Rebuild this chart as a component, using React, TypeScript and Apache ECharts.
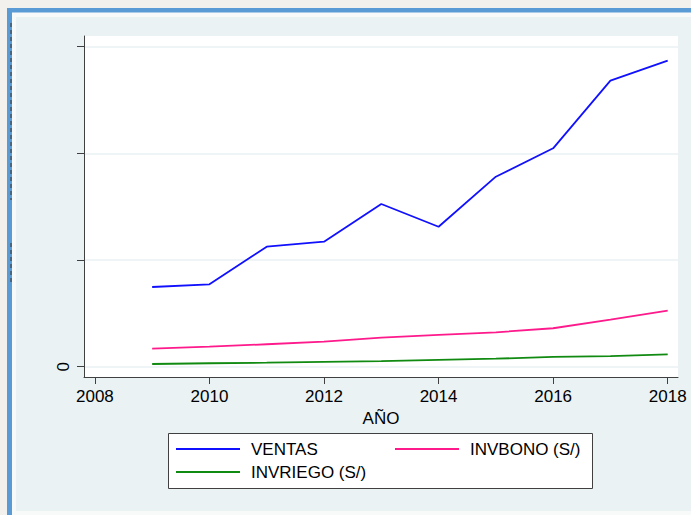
import React, { useEffect, useRef } from "react";
import * as echarts from "echarts";

const years = [2009, 2010, 2011, 2012, 2013, 2014, 2015, 2016, 2017, 2018];
const ventas = [7.47, 7.72, 11.25, 11.72, 15.25, 13.12, 17.81, 20.47, 26.81, 28.69];
const invbono = [1.69, 1.87, 2.1, 2.34, 2.72, 2.97, 3.22, 3.6, 4.41, 5.25];
const invriego = [0.25, 0.32, 0.37, 0.44, 0.51, 0.63, 0.75, 0.91, 0.98, 1.16];
const xTicks = [2008, 2010, 2012, 2014, 2016, 2018];
const yTicks = [0, 10, 20, 30];
const yTickLabels = ["0", "", "", ""];

const FONT = "'Liberation Sans', Arial, Helvetica, sans-serif";
const FS = 17;

export default function App() {
  const ref = useRef<HTMLDivElement>(null);
  useEffect(() => {
    if (!ref.current) return;
    const chart = echarts.init(ref.current, null, { renderer: "svg" });
    const pair = (vals: number[]) => years.map((y, i) => [y, vals[i]]);
    chart.setOption({
      animation: false,
      backgroundColor: "#f2f1ee",
      textStyle: { fontFamily: FONT },
      graphic: [
        { type: "rect", z: -20, shape: { x: 12, y: 12, width: 679, height: 503 }, style: { fill: "#f8fafa" } },
        { type: "rect", z: -19, shape: { x: 16, y: 17, width: 675, height: 494 }, style: { fill: "#EAF2F3" } },
        { type: "rect", z: -18, shape: { x: 7, y: 8, width: 684, height: 4.5 }, style: { fill: "#5B9BD5" } },
        { type: "rect", z: -18, shape: { x: 7, y: 8, width: 5, height: 507 }, style: { fill: "#5B9BD5" } },
        { type: "line", z: -17, shape: { x1: 11, y1: 23, x2: 11, y2: 200 }, style: { stroke: "#333", lineWidth: 1, lineDash: [4, 3] } },
        { type: "line", z: -17, shape: { x1: 11, y1: 243, x2: 11, y2: 283 }, style: { stroke: "#333", lineWidth: 1, lineDash: [4, 3] } },
        { type: "rect", z: -16, shape: { x: 168.5, y: 433.5, width: 424, height: 55 }, style: { fill: "#ffffff", stroke: "#404040", lineWidth: 1 } },
      ],
      grid: {
        left: 84,
        right: 13,
        top: 36,
        bottom: 138,
        show: true,
        backgroundColor: "#ffffff",
        borderWidth: 0,
      },
      xAxis: {
        type: "value",
        min: 2007.81,
        max: 2018.18,
        name: "AÑO",
        nameLocation: "middle",
        nameGap: 26,
        nameTextStyle: { fontSize: FS, color: "#000", fontFamily: FONT },
        axisLine: { show: true, onZero: false, lineStyle: { color: "#404040", width: 1 } },
        axisTick: { show: true, length: 7, customValues: xTicks, lineStyle: { color: "#404040" } },
        axisLabel: {
          customValues: xTicks,
          fontSize: FS,
          color: "#000",
          margin: 11,
          fontFamily: FONT,
          formatter: (v: number) => String(Math.round(v)),
        },
        splitLine: { show: false },
      },
      yAxis: {
        type: "value",
        min: -0.97,
        max: 31.0,
        axisLine: { show: true, onZero: false, lineStyle: { color: "#404040", width: 1 } },
        axisTick: { show: true, length: 7, customValues: yTicks, lineStyle: { color: "#404040" } },
        axisLabel: {
          customValues: yTicks,
          rotate: 90,
          fontSize: FS,
          color: "#000",
          margin: 12,
          fontFamily: FONT,
          formatter: (v: number) => {
            const i = yTicks.indexOf(v);
            return i >= 0 ? yTickLabels[i] : "";
          },
        },
        splitLine: { show: true, lineStyle: { color: "#EAF2F3", width: 1.5 } },
      },
      legend: [
        {
          orient: "vertical",
          left: 176,
          top: 440,
          padding: 0,
          itemGap: 5,
          icon: "rect",
          itemWidth: 64,
          itemHeight: 2,
          data: ["VENTAS", "INVRIEGO (S/)"],
          textStyle: { fontSize: FS, color: "#000", fontFamily: FONT, padding: [0, 0, 0, 6], lineHeight: 18 },
        },
        {
          orient: "vertical",
          left: 395,
          top: 440,
          padding: 0,
          itemGap: 5,
          icon: "rect",
          itemWidth: 64,
          itemHeight: 2,
          data: ["INVBONO (S/)"],
          textStyle: { fontSize: FS, color: "#000", fontFamily: FONT, padding: [0, 0, 0, 6], lineHeight: 18 },
        },
      ],
      series: [
        { name: "VENTAS", type: "line", data: pair(ventas), showSymbol: false, lineStyle: { color: "#1010ff", width: 1.8 }, itemStyle: { color: "#1010ff" } },
        { name: "INVBONO (S/)", type: "line", data: pair(invbono), showSymbol: false, lineStyle: { color: "#ff1a8c", width: 1.8 }, itemStyle: { color: "#ff1a8c" } },
        { name: "INVRIEGO (S/)", type: "line", data: pair(invriego), showSymbol: false, lineStyle: { color: "#108a10", width: 1.8 }, itemStyle: { color: "#108a10" } },
      ],
    });
    return () => chart.dispose();
  }, []);
  return <div ref={ref} style={{ position: "fixed", left: 0, top: 0, width: 691, height: 515 }} />;
}
